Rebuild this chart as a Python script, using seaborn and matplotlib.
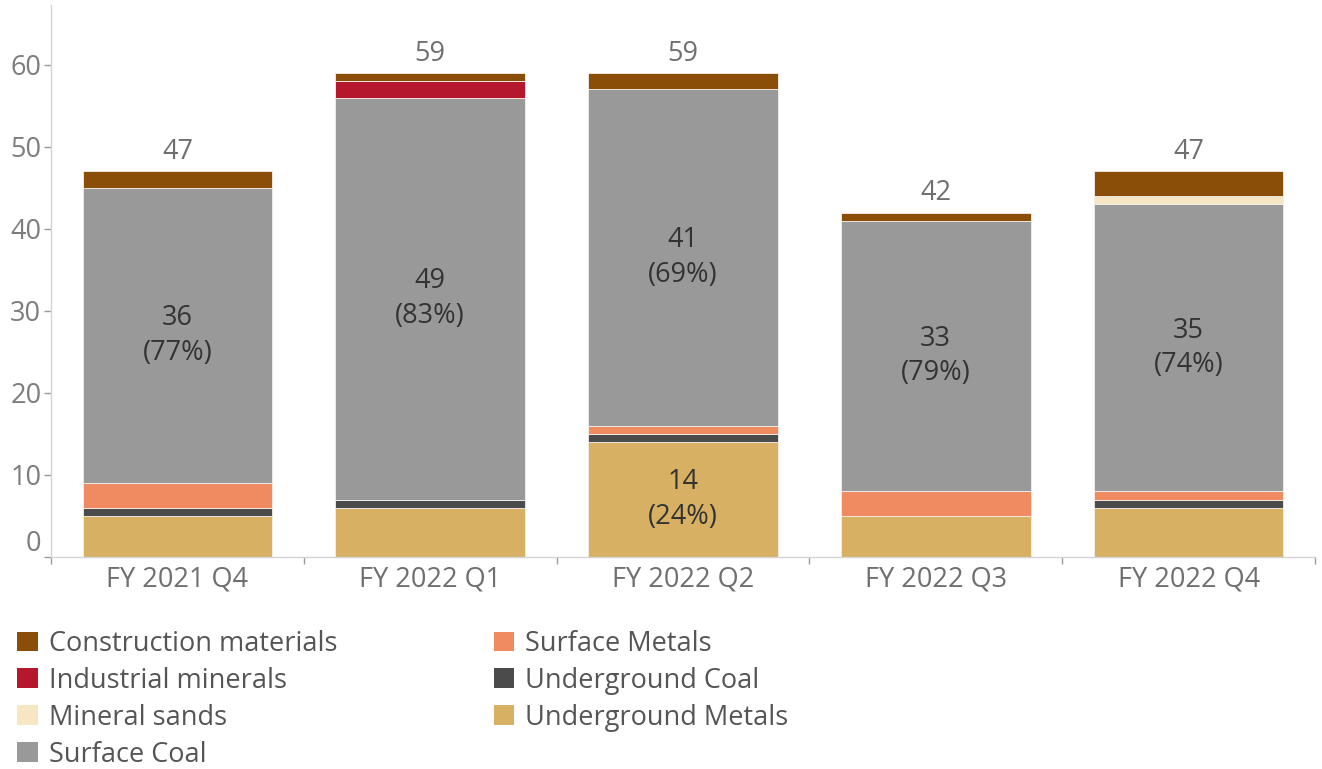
import matplotlib
matplotlib.use("Agg")
import matplotlib.pyplot as plt
import matplotlib.transforms as mtransforms
from matplotlib.patches import Patch
import seaborn as sns
import numpy as np

categories = ["FY 2021 Q4", "FY 2022 Q1", "FY 2022 Q2", "FY 2022 Q3", "FY 2022 Q4"]
# stacked from bottom to top
underground_metals = [5, 6, 14, 5, 6]
underground_coal = [1, 1, 1, 0, 1]
surface_metals = [3, 0, 1, 3, 1]
surface_coal = [36, 49, 41, 33, 35]
mineral_sands = [0, 0, 0, 0, 1]
industrial_minerals = [0, 2, 0, 0, 0]
construction_materials = [2, 1, 2, 1, 3]

series = [
    ("Underground Metals", underground_metals, "#D8B063"),
    ("Underground Coal", underground_coal, "#4B4B4B"),
    ("Surface Metals", surface_metals, "#EF8A61"),
    ("Surface Coal", surface_coal, "#999999"),
    ("Mineral sands", mineral_sands, "#F6E6C3"),
    ("Industrial minerals", industrial_minerals, "#B5172C"),
    ("Construction materials", construction_materials, "#8A4E08"),
]
legend_order = ["Construction materials", "Industrial minerals", "Mineral sands",
                "Surface Coal", "Surface Metals", "Underground Coal", "Underground Metals"]

sns.set_theme(style="white")
plt.rcParams["font.family"] = ["Open Sans", "DejaVu Sans"]

fig = plt.figure(figsize=(13.22, 7.69), dpi=100)
ax = fig.add_axes([0.0386, 0.2757, 0.9561, 0.7178])

bottom = np.zeros(len(categories))
for name, vals, col in series:
    sns.barplot(x=categories, y=vals, bottom=bottom, color=col, width=0.75,
                saturation=1, edgecolor="#f4f0ea", linewidth=0.6, ax=ax)
    bottom = bottom + np.array(vals, dtype=float)

totals = bottom
label_col = "#6f6f6f"
FS = 19.5
for i, t in enumerate(totals):
    ax.annotate(f"{int(t)}", (i, t), xytext=(0, 4), textcoords="offset points",
                ha="center", va="bottom", fontsize=FS, color=label_col)

# in-bar labels
sc_base = np.array(underground_metals) + np.array(underground_coal) + np.array(surface_metals)
for i, v in enumerate(surface_coal):
    pct = round(100 * v / totals[i])
    ax.text(i, sc_base[i] + v / 2, f"{v}\n({pct}%)", ha="center", va="center",
            fontsize=FS, color="#333333", linespacing=1.3)
i = 2
pct = round(100 * underground_metals[i] / totals[i])
ax.text(i, underground_metals[i] / 2, f"{underground_metals[i]}\n({pct}%)", ha="center",
        va="center", fontsize=FS, color="#333333", linespacing=1.3)

ax.set_xlim(-0.5, 4.5)
ax.set_ylim(0, 67.3)
ax.set_yticks([0, 10, 20, 30, 40, 50, 60])
ax.set_xlabel("")
ax.set_ylabel("")
for s in ["top", "right"]:
    ax.spines[s].set_visible(False)
for s in ["left", "bottom"]:
    ax.spines[s].set_color("#d4d4d4")
    ax.spines[s].set_linewidth(1.0)

ax.tick_params(axis="y", which="major", length=5, width=1, color="#9a9a9a",
               labelsize=FS, labelcolor="#7d7d7d", pad=2, left=True)
ax.tick_params(axis="x", which="major", length=0, labelsize=FS, labelcolor="#6f6f6f", pad=6)
ax.set_xticks(np.arange(-0.5, 5.0, 1.0), minor=True)
ax.tick_params(axis="x", which="minor", length=5, width=1, color="#9a9a9a", bottom=True)

for lab in ax.get_yticklabels():
    if lab.get_text() == "0":
        lab.set_transform(lab.get_transform() +
                          mtransforms.ScaledTranslation(0, 0.16, fig.dpi_scale_trans))

colors = {n: c for n, _, c in series}
handles = [Patch(facecolor=colors[n], edgecolor="none", label=n) for n in legend_order]
fig.legend(handles=handles, loc="upper left", bbox_to_anchor=(0.005, 0.195), ncol=2,
           frameon=False, fontsize=FS, handlelength=0.75, handleheight=0.75,
           handletextpad=0.4, columnspacing=5.8, labelspacing=0.33, borderaxespad=0,
           labelcolor="#555555")

fig.savefig("out.png", dpi=100)
